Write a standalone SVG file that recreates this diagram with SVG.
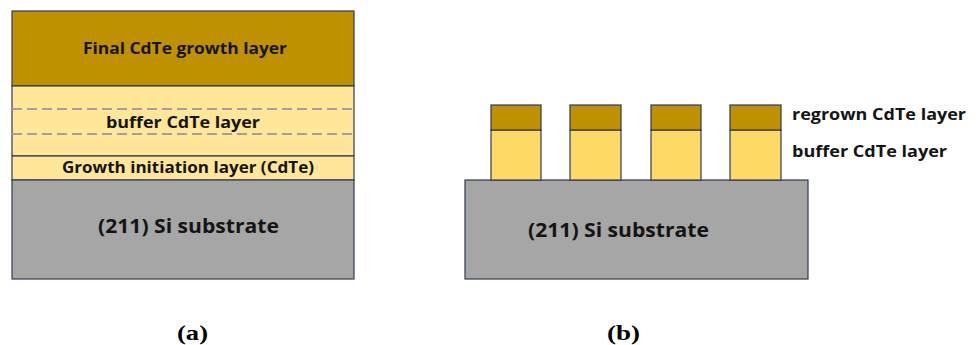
<svg xmlns="http://www.w3.org/2000/svg" width="979" height="345" viewBox="0 0 979 345">
<style>
.l{stroke:#2F3B55;stroke-width:1.2}
.brown{fill:#BF9000}
.lb{fill:#FFE699}
.yb{fill:#FFD966}
.si{fill:#A6A6A6}
.t{font-family:"Open Sans","Noto Sans",sans-serif;font-weight:bold;font-size:16.5px;fill:#141414}
.s{font-size:19px}
.dash{stroke:#A0A0A0;stroke-width:2;stroke-dasharray:10,5}
.cap{font-family:"Liberation Serif",serif;font-weight:bold;font-size:21px;fill:#000}
</style>
<rect width="979" height="345" fill="#fff"/>
<g id="panel-a">
  <g id="a-final"><rect class="l brown" x="12" y="11" width="342" height="75"/><text class="t" x="83" y="54" textLength="204" lengthAdjust="spacingAndGlyphs">Final CdTe growth layer</text></g>
  <g id="a-buffer"><rect class="l lb" x="12" y="86" width="342" height="70"/>
    <line class="dash" x1="12" y1="109" x2="354" y2="109"/>
    <line class="dash" x1="12" y1="134" x2="354" y2="134"/>
    <text class="t" x="106" y="128" textLength="154" lengthAdjust="spacingAndGlyphs">buffer CdTe layer</text></g>
  <g id="a-init"><rect class="l lb" x="12" y="156" width="342" height="24"/><text class="t" x="62" y="173" textLength="252" lengthAdjust="spacingAndGlyphs">Growth initiation layer (CdTe)</text></g>
  <g id="a-sub"><rect class="l si" x="12" y="180" width="342" height="99"/><text class="t s" x="98" y="233" textLength="181" lengthAdjust="spacingAndGlyphs">(211) Si substrate</text></g>
</g>
<g id="panel-b">
  <g id="b-sub"><rect class="l si" x="465" y="180" width="343" height="99"/><text class="t s" x="528" y="237" textLength="181" lengthAdjust="spacingAndGlyphs">(211) Si substrate</text></g>
  <g id="b-p1"><rect class="l yb" x="491" y="130" width="50" height="50"/><rect class="l brown" x="491" y="105" width="50" height="25"/></g>
  <g id="b-p2"><rect class="l yb" x="570" y="130" width="51" height="50"/><rect class="l brown" x="570" y="105" width="51" height="25"/></g>
  <g id="b-p3"><rect class="l yb" x="651" y="130" width="50" height="50"/><rect class="l brown" x="651" y="105" width="50" height="25"/></g>
  <g id="b-p4"><rect class="l yb" x="730" y="130" width="51" height="50"/><rect class="l brown" x="730" y="105" width="51" height="25"/></g>
  <text class="t" x="792" y="120" textLength="174" lengthAdjust="spacingAndGlyphs">regrown  CdTe layer</text>
  <text class="t" x="792" y="157" textLength="155" lengthAdjust="spacingAndGlyphs">buffer CdTe layer</text>
</g>
<text class="cap" x="177" y="340" textLength="31" lengthAdjust="spacingAndGlyphs">(a)</text>
<text class="cap" x="607" y="340" textLength="33" lengthAdjust="spacingAndGlyphs">(b)</text>
</svg>
